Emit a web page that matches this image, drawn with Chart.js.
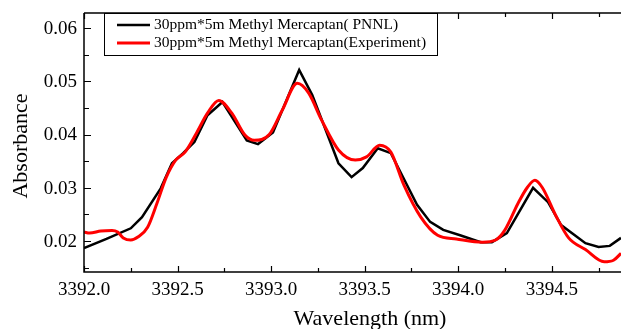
<!DOCTYPE html>
<html>
<head>
<meta charset="utf-8">
<script src="https://cdn.jsdelivr.net/npm/chart.js@4/dist/chart.umd.min.js"></script>
<style>
    html, body { margin: 0; padding: 0; background: #fff; }
    #wrap { width: 621px; height: 329px; position: relative; }
</style>
</head>
<body>
<div id="wrap"><canvas id="specChart" width="621" height="329"></canvas></div>
<script>
// PNNL reference spectrum (nm, absorbance)
var pnnlWave = [3392.00, 3392.12, 3392.25, 3392.31, 3392.41, 3392.47, 3392.53, 3392.59, 3392.66, 3392.74,
    3392.87, 3392.93, 3393.01, 3393.15, 3393.22, 3393.36, 3393.43, 3393.49, 3393.57, 3393.64,
    3393.78, 3393.85, 3393.92, 3394.01, 3394.12, 3394.18, 3394.26, 3394.40, 3394.48, 3394.55,
    3394.68, 3394.75, 3394.81, 3394.87];
var pnnlAbs = [0.0187, 0.0204, 0.0224, 0.0245, 0.0299, 0.0346, 0.0365, 0.0386, 0.0436, 0.0461,
    0.0389, 0.0382, 0.0404, 0.0521, 0.0474, 0.0346, 0.0320, 0.0337, 0.0374, 0.0365,
    0.0268, 0.0236, 0.0221, 0.0211, 0.0198, 0.0198, 0.0215, 0.0300, 0.0273, 0.0230,
    0.0196, 0.0189, 0.0191, 0.0206];

// measured spectrum
var expWave = [3392.00, 3392.03, 3392.09, 3392.15, 3392.18, 3392.21, 3392.25, 3392.29, 3392.34, 3392.39,
    3392.44, 3392.49, 3392.54, 3392.60, 3392.66, 3392.72, 3392.79, 3392.86, 3392.91, 3392.99,
    3393.06, 3393.14, 3393.20, 3393.27, 3393.36, 3393.45, 3393.51, 3393.58, 3393.64, 3393.71,
    3393.80, 3393.89, 3393.99, 3394.13, 3394.20, 3394.25, 3394.32, 3394.37, 3394.41, 3394.45,
    3394.52, 3394.59, 3394.68, 3394.78, 3394.83, 3394.87];
var expAbs = [0.0217, 0.0215, 0.0219, 0.0220, 0.0217, 0.0206, 0.0202, 0.0208, 0.0226, 0.0271,
    0.0320, 0.0352, 0.0367, 0.0402, 0.0440, 0.0464, 0.0440, 0.0399, 0.0389, 0.0400,
    0.0446, 0.0496, 0.0478, 0.0427, 0.0371, 0.0352, 0.0358, 0.0380, 0.0367, 0.0305,
    0.0245, 0.0211, 0.0204, 0.0198, 0.0202, 0.0221, 0.0271, 0.0301, 0.0314, 0.0300,
    0.0249, 0.0206, 0.0184, 0.0161, 0.0164, 0.0177];

var xTickLabels = ['3392.0', '3392.5', '3393.0', '3393.5', '3394.0', '3394.5'];
var yTickLabels = ['0.02', '0.03', '0.04', '0.05', '0.06'];
var seriesNames = ['30ppm*5m Methyl Mercaptan( PNNL)', '30ppm*5m Methyl Mercaptan(Experiment)'];

function toPoints(xs, ys) {
    var pts = [];
    for (var i = 0; i < xs.length; i++) pts.push({ x: xs[i], y: ys[i] });
    return pts;
}

var serif = '"Liberation Serif", "Times New Roman", serif';

// axes, inward ticks, labels and legend box, drawn like the Origin plot
var originFrame = {
    id: 'originFrame',
    afterDraw: function(chart) {
        var ctx = chart.ctx;
        var a = chart.chartArea;
        var xs = chart.scales.x, ys = chart.scales.y;
        ctx.save();
        ctx.strokeStyle = '#000';
        ctx.fillStyle = '#000';
        ctx.lineWidth = 1.5;
        ctx.beginPath();
        ctx.moveTo(a.left, a.top); ctx.lineTo(a.left, a.bottom); ctx.lineTo(a.right, a.bottom);
        ctx.moveTo(a.left, a.top); ctx.lineTo(a.right, a.top);
        ctx.stroke();

        ctx.lineWidth = 1.2;
        ctx.beginPath();
        for (var v = 3392; v <= 3394.9; v += 0.25) {
            var px = Math.round(xs.getPixelForValue(v)) + 0.5;
            var major = Math.abs(v * 2 - Math.round(v * 2)) < 1e-6;
            var len = major ? 6 : 4;
            ctx.moveTo(px, a.bottom); ctx.lineTo(px, a.bottom - len);
            ctx.moveTo(px, a.top); ctx.lineTo(px, a.top + len);
        }
        for (var w = 0.015; w <= 0.0626; w += 0.005) {
            var py = Math.round(ys.getPixelForValue(w)) + 0.5;
            var maj = Math.abs(w * 100 - Math.round(w * 100)) < 1e-6;
            ctx.moveTo(a.left, py); ctx.lineTo(a.left + (maj ? 7 : 5), py);
        }
        ctx.stroke();

        ctx.font = '19px ' + serif;
        ctx.textAlign = 'center';
        ctx.textBaseline = 'alphabetic';
        xTickLabels.forEach(function(t) {
            ctx.fillText(t, xs.getPixelForValue(parseFloat(t)), a.bottom + 23);
        });
        ctx.textAlign = 'right';
        ctx.textBaseline = 'middle';
        yTickLabels.forEach(function(t) {
            ctx.fillText(t, a.left - 7, ys.getPixelForValue(parseFloat(t)) + 1);
        });

        ctx.font = '22px ' + serif;
        ctx.textAlign = 'center';
        ctx.textBaseline = 'alphabetic';
        ctx.fillText('Wavelength (nm)', 370, 325);
        ctx.save();
        ctx.translate(27, 146);
        ctx.rotate(-Math.PI / 2);
        ctx.fillText('Absorbance', 0, 0);
        ctx.restore();

        // legend
        ctx.fillStyle = '#fff';
        ctx.fillRect(104, a.top, 333, 42);
        ctx.strokeStyle = '#000';
        ctx.lineWidth = 1;
        ctx.strokeRect(104.5, a.top + 0.5, 333, 42);
        var rows = [{ c: '#000', w: 2.5, y: 25 }, { c: '#ff0000', w: 3, y: 43 }];
        ctx.font = '15.5px ' + serif;
        ctx.textAlign = 'left';
        ctx.textBaseline = 'middle';
        rows.forEach(function(r, i) {
            ctx.strokeStyle = r.c;
            ctx.lineWidth = r.w;
            ctx.beginPath();
            ctx.moveTo(117, r.y); ctx.lineTo(150, r.y);
            ctx.stroke();
            ctx.fillStyle = '#000';
            ctx.fillText(seriesNames[i], 154, r.y);
        });
        ctx.restore();
    }
};

function drawChart() {
    new Chart(document.getElementById('specChart').getContext('2d'), {
        type: 'line',
        data: {
            datasets: [
                {
                    label: seriesNames[1],
                    data: toPoints(expWave, expAbs),
                    borderColor: '#ff0000',
                    borderWidth: 3,
                    pointRadius: 0,
                    cubicInterpolationMode: 'monotone',
                    order: 1
                },
                {
                    label: seriesNames[0],
                    data: toPoints(pnnlWave, pnnlAbs),
                    borderColor: '#000000',
                    borderWidth: 2.5,
                    pointRadius: 0,
                    tension: 0,
                    order: 2
                }
            ]
        },
        options: {
            responsive: false,
            animation: false,
            layout: { padding: { top: 13, right: 0, left: 0, bottom: 0 } },
            plugins: { legend: { display: false }, tooltip: { enabled: false } },
            scales: {
                x: {
                    type: 'linear',
                    min: 3392,
                    max: 3394.87,
                    ticks: { display: false },
                    grid: { display: false },
                    border: { display: false },
                    afterFit: function(s) { s.height = 57; }
                },
                y: {
                    min: 0.0142,
                    max: 0.0628,
                    ticks: { display: false },
                    grid: { display: false },
                    border: { display: false },
                    afterFit: function(s) { s.width = 84; }
                }
            }
        },
        plugins: [originFrame]
    });
}

if (document.fonts && document.fonts.load) {
    Promise.all([
        document.fonts.load('19px "Liberation Serif"'),
        document.fonts.load('22px "Liberation Serif"')
    ]).then(drawChart, drawChart);
} else {
    drawChart();
}
</script>
</body>
</html>
